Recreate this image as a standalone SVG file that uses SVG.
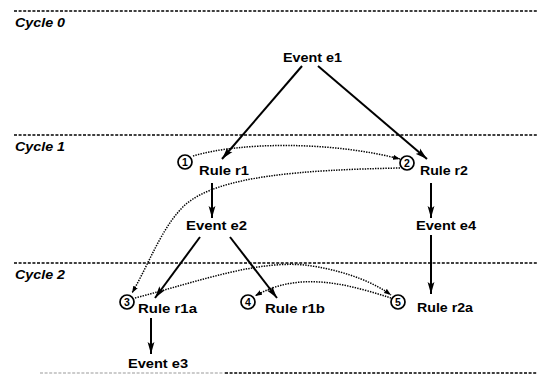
<svg xmlns="http://www.w3.org/2000/svg" width="537" height="388" viewBox="0 0 537 388">
<style>
.bg{fill:#fff}
.sep{stroke:#000;stroke-width:1.4;stroke-dasharray:3 1.6;fill:none}
.sepl{stroke:#999;stroke-width:1.1;stroke-dasharray:3 1.6;fill:none}
.cyc{font-family:"Liberation Sans",Arial,sans-serif;font-weight:bold;font-style:italic;font-size:13px;fill:#000}
.lbl{font-family:"Liberation Sans",Arial,sans-serif;font-weight:bold;font-size:13px;fill:#000}
.num{font-family:"Liberation Sans",Arial,sans-serif;font-weight:bold;font-size:10.5px;fill:#000;text-anchor:middle}
.circ{fill:#fff;stroke:#000;stroke-width:1.7}
.arr{stroke:#000;stroke-width:2;fill:none;marker-end:url(#ah)}
.dot{stroke:#000;stroke-width:1.5;stroke-dasharray:1.4 1.2;fill:none;marker-end:url(#dh)}
</style>
<defs>
<marker id="ah" viewBox="0 0 12 8" refX="12" refY="4" markerWidth="12" markerHeight="8" markerUnits="userSpaceOnUse" orient="auto">
<path d="M0,0.6 L12,4 L0,7.4 L2.5,4 Z" fill="#000"/>
</marker>
<marker id="dh" viewBox="0 0 7 6" refX="7" refY="3" markerWidth="7" markerHeight="6" markerUnits="userSpaceOnUse" orient="auto">
<path d="M0,0.5 L7,3 L0,5.5 Z" fill="#000"/>
</marker>
</defs>
<rect class="bg" x="0" y="0" width="537" height="388"/>
<g id="cycles">
<line class="sep" x1="14" y1="11" x2="537" y2="11"/>
<line class="sep" x1="14" y1="135" x2="537" y2="135"/>
<line class="sep" x1="14" y1="263" x2="537" y2="263"/>
<line class="sepl" x1="40" y1="373" x2="225" y2="373"/>
<line class="sep" x1="225" y1="373" x2="537" y2="373"/>
<text class="cyc" x="15" y="27" textLength="50" lengthAdjust="spacingAndGlyphs">Cycle 0</text>
<text class="cyc" x="15" y="151" textLength="50" lengthAdjust="spacingAndGlyphs">Cycle 1</text>
<text class="cyc" x="15" y="279" textLength="50" lengthAdjust="spacingAndGlyphs">Cycle 2</text>
</g>
<g id="connectors">
<line class="arr" x1="302" y1="66" x2="222" y2="159"/>
<line class="arr" x1="318" y1="66" x2="427" y2="159"/>
<line class="arr" x1="212" y1="183" x2="212" y2="218"/>
<line class="arr" x1="431" y1="183" x2="431" y2="218"/>
<line class="arr" x1="431" y1="235" x2="431" y2="294"/>
<line class="arr" x1="200" y1="237" x2="155" y2="298"/>
<line class="arr" x1="230" y1="237" x2="277" y2="298"/>
<line class="arr" x1="151" y1="318" x2="151" y2="354"/>
<path class="dot" d="M193,156 C240,142 330,141 400,159"/>
<path class="dot" d="M400,168 C300,170 220,176 186,204 C162,226 150,262 132,293"/>
<path class="dot" d="M135,298 C200,281 262,258 312,266 C350,272 376,284 391,295"/>
<path class="dot" d="M391,298 C350,285 300,270 255,296"/>
</g>
<g id="e1"><text class="lbl" x="283" y="62" textLength="59" lengthAdjust="spacingAndGlyphs">Event e1</text></g>
<g id="r1">
<circle class="circ" cx="185" cy="162" r="7"/><text class="num" x="185" y="165.8">1</text>
<text class="lbl" x="199" y="175" textLength="50" lengthAdjust="spacingAndGlyphs">Rule r1</text>
</g>
<g id="r2">
<circle class="circ" cx="407" cy="163" r="7"/><text class="num" x="407" y="166.8">2</text>
<text class="lbl" x="420" y="175" textLength="48" lengthAdjust="spacingAndGlyphs">Rule r2</text>
</g>
<g id="e2"><text class="lbl" x="186" y="230" textLength="61" lengthAdjust="spacingAndGlyphs">Event e2</text></g>
<g id="e4"><text class="lbl" x="416" y="230" textLength="60" lengthAdjust="spacingAndGlyphs">Event e4</text></g>
<g id="r1a">
<circle class="circ" cx="127" cy="302" r="7"/><text class="num" x="127" y="305.8">3</text>
<text class="lbl" x="138" y="313" textLength="59" lengthAdjust="spacingAndGlyphs">Rule r1a</text>
</g>
<g id="r1b">
<circle class="circ" cx="248" cy="302" r="7"/><text class="num" x="248" y="305.8">4</text>
<text class="lbl" x="265" y="313" textLength="60" lengthAdjust="spacingAndGlyphs">Rule r1b</text>
</g>
<g id="r2a">
<circle class="circ" cx="398" cy="302" r="7"/><text class="num" x="398" y="305.8">5</text>
<text class="lbl" x="417" y="312" textLength="56" lengthAdjust="spacingAndGlyphs">Rule r2a</text>
</g>
<g id="e3"><text class="lbl" x="128" y="368" textLength="60" lengthAdjust="spacingAndGlyphs">Event e3</text></g>
</svg>
